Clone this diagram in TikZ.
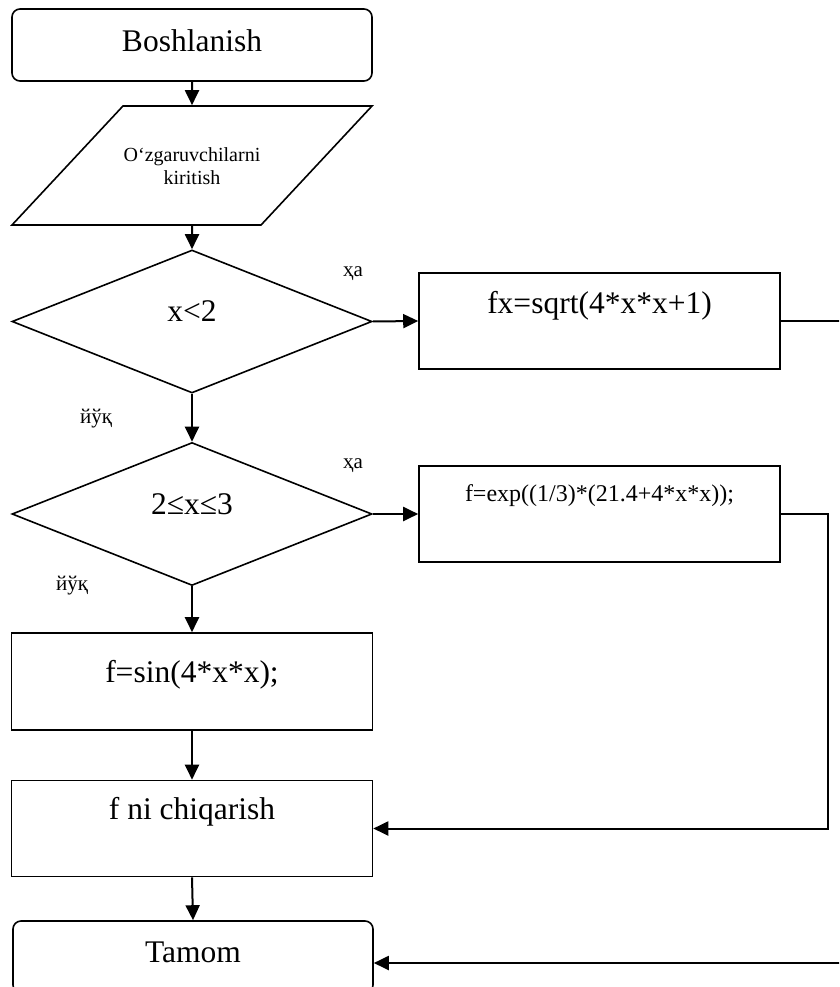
\documentclass[tikz,border=0pt]{standalone}
\usepackage{fontspec}
\setmainfont{Liberation Serif}
\usetikzlibrary{arrows.meta, shapes.geometric}

\newcommand{\ftbig}{\fontsize{31.5}{36}\selectfont}
\newcommand{\ftmid}{\fontsize{24}{28}\selectfont}
\newcommand{\ftsmall}{\fontsize{20}{23}\selectfont}
\newcommand{\ftlbl}{\fontsize{21}{24}\selectfont}

\begin{document}
\begin{tikzpicture}[x=1pt, y=-1pt,
  every node/.style={inner sep=0pt, line width=1.6pt},
  term/.style={draw, rounded corners=8pt, minimum width=360pt, minimum height=72pt, font=\ftbig},
  proc/.style={draw, minimum width=361pt, minimum height=96pt, font=\ftbig},
  cond/.style={draw, diamond, aspect=2.5, minimum width=360pt, minimum height=143pt,
    font=\ftbig, text height=20pt, text depth=20pt},
  io/.style={draw, trapezium, trapezium left angle=47, trapezium right angle=133,
    trapezium stretches body, minimum width=360pt, font=\ftsmall, align=center},
  lbl/.style={font=\ftlbl},
  conn/.style={line width=2pt, -{Triangle[length=15pt,width=14pt]}},
]
\path[use as bounding box, clip] (0,0) rectangle (839,987);

% blocks of the algorithm
\node (start) at (192,45) [term, text height=43pt, text depth=29pt] {Boshlanish};
\node (input) at (192,165.5) [io, text height=79pt, text depth=40pt] {O‘zgaruvchilarni\\kiritish};
\node (c1) at (192,321.5) [cond] {x<2};
\node (fx) at (599.5,321) [proc, text height=40pt, text depth=56pt] {fx=sqrt(4*x*x+1)};
\node (c2) at (192,514) [cond] {2≤x≤3};
\node (ex) at (599.5,514) [proc, text height=35pt, text depth=61pt, font=\ftmid] {f=exp((1/3)*(21.4+4*x*x));};
\node (sn) at (192,681.5) [proc, text height=49pt, text depth=48pt] {f=sin(4*x*x);};
\node (out) at (192,828.5) [proc, text height=39pt, text depth=57pt] {f ni chiqarish};
\node (stop) at (193,957) [term, text height=41pt, text depth=31pt] {Tamom};

% branch labels
\node (ha1) at (353,274) [lbl] {ҳа};
\node (yuq1) at (96,419) [lbl] {йўқ};
\node (ha2) at (353,466) [lbl] {ҳа};
\node (yuq2) at (72,586) [lbl] {йўқ};

% arrows
\draw[conn] (start.south) -- (input.north);
\draw[conn] (input.south) -- (c1.north);
\draw[conn] (c1.east) -- (fx.west);
\draw[conn] (c1.south) -- (c2.north);
\draw[conn] (c2.east) -- (ex.west);
\draw[conn] (c2.south) -- (sn.north);
\draw[conn] (sn.south) -- (out.north);
\draw[conn] (out.south) -- (stop.north);

\coordinate (exturn) at (828,514);
\draw[conn] (ex.east) -- (exturn) |- (out.east);
\coordinate (fxturn) at (845,321);
\draw[conn] (fx.east) -- (fxturn) |- ([yshift=-6pt]stop.east);

\end{tikzpicture}
\end{document}
